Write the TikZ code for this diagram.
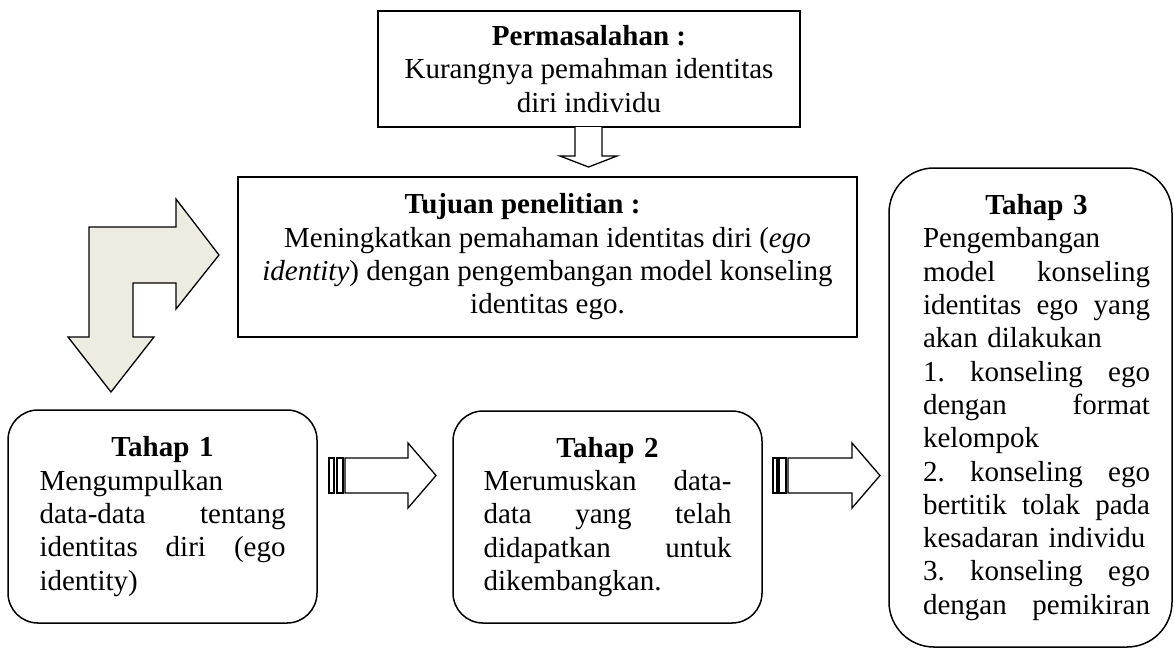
\documentclass[tikz,border=0pt]{standalone}
\usepackage{fontspec}
\setmainfont{Liberation Serif}
\setlength\parindent{0pt}
\definecolor{arrowfill}{HTML}{EEECE1}
\newcommand\jline[1]{\leavevmode\hbox to\dimexpr\hsize-\leftskip\relax{#1}}
\newcommand\ctrline[1]{\leavevmode\hbox to\dimexpr\hsize-\leftskip\relax{\hfil#1\hfil}}
\begin{document}
\begin{tikzpicture}[x=1pt,y=-1pt,
  txt/.style={font=\fontsize{29}{33.3}\selectfont},
  box/.style={draw, line width=1.5pt, inner sep=0pt, txt},
  stage/.style={box, align=left},
  barrow/.style={draw, line width=1.3pt, fill=white, line join=miter},
]
\useasboundingbox (0,0) rectangle (1174,651);

% boxes
\node[box, align=center, minimum width=422pt, minimum height=116pt] (perm) at (589,69)
  {\textbf{Permasalahan :}\\Kurangnya pemahman identitas\\diri individu};

\node[box, align=center, minimum width=619pt, minimum height=160pt] (tujuan) at (547.5,257)
  {\hspace*{-50pt}\textbf{Tujuan penelitian :}\\Meningkatkan pemahaman identitas diri (\textit{ego}\\\textit{identity}) dengan pengembangan model konseling\\identitas ego.};

\node[stage, rounded corners=30pt, minimum width=309pt, minimum height=213pt, text width=246pt] (t1) at (162.5,516.5)
  {\ctrline{\textbf{Tahap 1}}\\
   Mengumpulkan\\
   \jline{data-data\hfill tentang}\\
   \jline{identitas\hfill diri\hfill (ego}\\
   identity)};

\node[stage, rounded corners=30pt, minimum width=309pt, minimum height=212pt, text width=248pt] (t2) at (607.5,517)
  {\ctrline{\textbf{Tahap 2}}\\
   \jline{Merumuskan\hfill data-}\\
   \jline{data\hfill yang\hfill telah}\\
   \jline{didapatkan\hfill untuk}\\
   dikembangkan.};

\node[stage, rounded corners=45pt, minimum width=283pt, minimum height=479pt, text width=239pt] (t3) at (1030.5,407.5)
  {\leftskip=12pt
   \ctrline{\textbf{Tahap 3}}\\
   Pengembangan\\
   \jline{model\hfill konseling}\\
   \jline{identitas\hfill ego\hfill yang}\\
   akan dilakukan\\
   \jline{1.\hfill konseling\hfill ego}\\
   \jline{dengan\hfill format}\\
   kelompok\\
   \jline{2.\hfill konseling\hfill ego}\\
   \jline{bertitik\hfill tolak\hfill pada}\\
   kesadaran individu\\
   \jline{3.\hfill konseling\hfill ego}\\
   \jline{dengan\hfill pemikiran}\par};

% down block arrow Permasalahan -> Tujuan
\draw[barrow] (575,127) -- (575,156) -- (560,156) -- (588.5,167) -- (617,156) -- (602,156) -- (602,127);

% bent block arrow
\draw[barrow, fill=arrowfill] (89,337) -- (89,227) -- (176,227) -- (176,199) -- (219,255)
  -- (176,309) -- (176,283) -- (133,283) -- (133,337) -- (154,337) -- (111,392) -- (68,337) -- cycle;

% striped arrow Tahap 1 -> Tahap 2
\draw[barrow] (329,458) rectangle (334,493);
\draw[barrow] (337,458) rectangle (343,493);
\draw[barrow] (345,458) -- (408,458) -- (408,443) -- (436,475.5) -- (408,508) -- (408,493) -- (345,493) -- cycle;

% striped arrow Tahap 2 -> Tahap 3
\draw[barrow] (773,458) rectangle (777,493);
\draw[barrow] (779,458) rectangle (786,493);
\draw[barrow] (788,458) -- (852,458) -- (852,443) -- (880,475.5) -- (852,508) -- (852,493) -- (788,493) -- cycle;
\end{tikzpicture}
\end{document}
